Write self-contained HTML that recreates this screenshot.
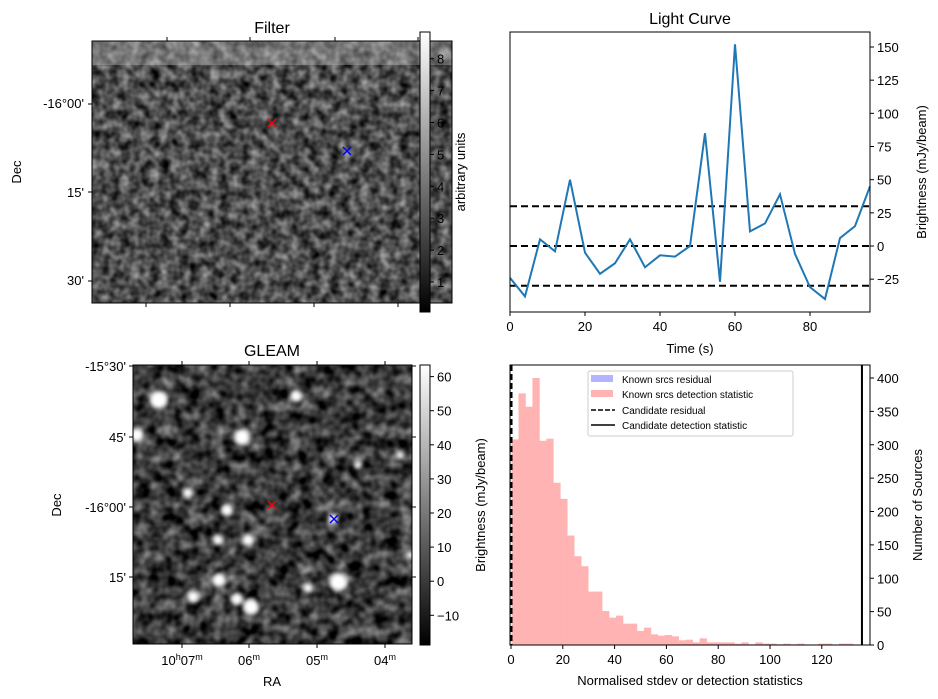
<!DOCTYPE html>
<html><head><meta charset="utf-8"><style>
body{margin:0;background:#fff}
svg{display:block;font-family:"Liberation Sans","DejaVu Sans",sans-serif}
</style></head><body>
<svg id="fig" width="938" height="699" viewBox="0 0 938 699" xmlns="http://www.w3.org/2000/svg">
<defs>
<filter id="noiseF" x="0" y="0" width="100%" height="100%" color-interpolation-filters="sRGB">
<feTurbulence type="fractalNoise" baseFrequency="0.1" numOctaves="2" seed="3"/>
<feColorMatrix type="matrix" values="0.85 0 0 0 -0.12  0.85 0 0 0 -0.12  0.85 0 0 0 -0.12  0 0 0 0 1"/>
</filter>
<filter id="noiseG" x="0" y="0" width="100%" height="100%" color-interpolation-filters="sRGB">
<feTurbulence type="fractalNoise" baseFrequency="0.08" numOctaves="2" seed="11"/>
<feColorMatrix type="matrix" values="0.9 0 0 0 -0.22  0.9 0 0 0 -0.22  0.9 0 0 0 -0.22  0 0 0 0 1"/>
</filter>
<filter id="blur3"><feGaussianBlur stdDeviation="2.5"/></filter>
<linearGradient id="gray" x1="0" y1="1" x2="0" y2="0"><stop offset="0" stop-color="#000"/><stop offset="1" stop-color="#fff"/></linearGradient>
<clipPath id="clipG"><rect x="133" y="365" width="279" height="279"/></clipPath>
</defs>

<!-- Filter panel -->
<g>
<text x="272" y="33" font-size="16" text-anchor="middle">Filter</text>
<rect x="92" y="41" width="360" height="262" fill="#fff" filter="url(#noiseF)"/>
<rect x="92" y="41" width="360" height="24" fill="#c8c8c8" opacity="0.35"/>
<rect x="92" y="41" width="360" height="262" fill="none" stroke="#000"/>
<g stroke="#000"><line x1="92" y1="104" x2="88" y2="104"/><line x1="92" y1="192" x2="88" y2="192"/><line x1="92" y1="281" x2="88" y2="281"/>
<line x1="167" y1="41" x2="167" y2="37"/><line x1="250" y1="41" x2="250" y2="37"/><line x1="335" y1="41" x2="335" y2="37"/><line x1="418" y1="41" x2="418" y2="37"/>
<line x1="146" y1="303" x2="146" y2="307"/><line x1="230" y1="303" x2="230" y2="307"/><line x1="314" y1="303" x2="314" y2="307"/><line x1="398" y1="303" x2="398" y2="307"/></g>
<g font-size="13" text-anchor="end"><text x="84" y="108">-16°00'</text><text x="84" y="197">15'</text><text x="84" y="285">30'</text></g>
<text transform="translate(21,172) rotate(-90)" font-size="13" text-anchor="middle">Dec</text>
<path d="M268,119 L276,127 M276,119 L268,127" stroke="#f00" stroke-width="1.3"/>
<path d="M343,147 L351,155 M351,147 L343,155" stroke="#00f" stroke-width="1.5"/>
<rect x="420" y="32" width="10" height="280" fill="url(#gray)" stroke="#000"/>
<g id="cbF" font-size="13"></g>
<text transform="translate(465,172) rotate(-90)" font-size="13" text-anchor="middle">arbitrary units</text>
</g>

<!-- GLEAM panel -->
<g>
<text x="272" y="356" font-size="16" text-anchor="middle">GLEAM</text>
<g clip-path="url(#clipG)">
<rect x="133" y="365" width="279" height="279" fill="#fff" filter="url(#noiseG)"/>
<g fill="#fff" filter="url(#blur3)" id="blobs"></g>
</g>
<rect x="133" y="365" width="279" height="279" fill="none" stroke="#000"/>
<g stroke="#000"><line x1="133" y1="366" x2="129" y2="366"/><line x1="133" y1="437" x2="129" y2="437"/><line x1="133" y1="507" x2="129" y2="507"/><line x1="133" y1="577" x2="129" y2="577"/>
<line x1="412" y1="366" x2="416" y2="366"/><line x1="412" y1="437" x2="416" y2="437"/><line x1="412" y1="507" x2="416" y2="507"/><line x1="412" y1="577" x2="416" y2="577"/>
<line x1="182" y1="644" x2="182" y2="648"/><line x1="249" y1="644" x2="249" y2="648"/><line x1="317" y1="644" x2="317" y2="648"/><line x1="385" y1="644" x2="385" y2="648"/>
<line x1="182" y1="365" x2="182" y2="361"/><line x1="249" y1="365" x2="249" y2="361"/><line x1="317" y1="365" x2="317" y2="361"/><line x1="385" y1="365" x2="385" y2="361"/></g>
<g font-size="13" text-anchor="end"><text x="126" y="371">-15°30'</text><text x="126" y="442">45'</text><text x="126" y="512">-16°00'</text><text x="126" y="582">15'</text></g>
<g font-size="13" text-anchor="middle"><text x="182" y="665">10<tspan font-size="9" dy="-5">h</tspan><tspan dy="5">07</tspan><tspan font-size="9" dy="-5">m</tspan></text>
<text x="249" y="665">06<tspan font-size="9" dy="-5">m</tspan></text><text x="317" y="665">05<tspan font-size="9" dy="-5">m</tspan></text><text x="385" y="665">04<tspan font-size="9" dy="-5">m</tspan></text></g>
<text x="272" y="686" font-size="13" text-anchor="middle">RA</text>
<text transform="translate(61,505) rotate(-90)" font-size="13" text-anchor="middle">Dec</text>
<path d="M268,501 L276,509 M276,501 L268,509" stroke="#f00" stroke-width="1.3"/>
<path d="M330,515 L338,523 M338,515 L330,523" stroke="#00f" stroke-width="1.5"/>
<rect x="420" y="365" width="10" height="280" fill="url(#gray)" stroke="#000"/>
<g id="cbG" font-size="13"></g>
<text transform="translate(485,505) rotate(-90)" font-size="13" text-anchor="middle">Brightness (mJy/beam)</text>
</g>

<!-- Light curve -->
<g>
<text x="690" y="24" font-size="16" text-anchor="middle">Light Curve</text>
<g id="lc"></g>
<rect x="510" y="32" width="360" height="280" fill="none" stroke="#000"/>
<text x="690" y="353" font-size="13" text-anchor="middle">Time (s)</text>
<text transform="translate(926,172) rotate(-90)" font-size="13" text-anchor="middle">Brightness (mJy/beam)</text>
</g>

<!-- Histogram -->
<g>
<g id="hist"></g>
<rect x="510" y="365" width="360" height="280" fill="none" stroke="#000"/>
<text x="690" y="685" font-size="13" text-anchor="middle">Normalised stdev or detection statistics</text>
<text transform="translate(922,505) rotate(-90)" font-size="13" text-anchor="middle">Number of Sources</text>
<g font-size="10">
<rect x="588" y="371" width="205" height="65" fill="#fff" fill-opacity="0.8" stroke="#ccc" rx="2"/>
<rect x="591" y="375" width="22" height="7" fill="#b3b3ff"/><text x="622" y="383">Known srcs residual</text>
<rect x="591" y="390" width="22" height="7" fill="#ffb3b3"/><text x="622" y="398">Known srcs detection statistic</text>
<line x1="591" y1="410" x2="615" y2="410" stroke="#000" stroke-width="1.5" stroke-dasharray="5,2"/><text x="622" y="414">Candidate residual</text>
<line x1="591" y1="425" x2="615" y2="425" stroke="#000" stroke-width="1.5"/><text x="622" y="429">Candidate detection statistic</text>
</g>
</g>
</svg>
<script>
// Light curve data
const lcTimes=[0,4,8,12,16,20,24,28,32,36,40,44,48,52,56,60,64,68,72,76,80,84,88,92,96];
const lcValues=[-24,-38,5,-4,50,-5,-21,-13,5,-16,-7,-8,0,85,-27,152,11,17,39,-6,-31,-40,6,15,45];
const lcThresholds=[30,0,-30];
const lcXTicks=[0,20,40,60,80];
const lcYTicks=[-25,0,25,50,75,100,125,150];
// Histogram data
const histBinStart=0.2, histBinWidth=2.69;
const histCounts=[308,377,357,400,306,309,243,219,164,133,118,80,80,51,41,44,32,32,21,26,16,14,15,13,7,8,4,10,4,4,4,4,2,4,1,4,2,2,1,2,1,2,0,0,2,2,0,2,2];
const histCandidateResidual=0.2;
const histCandidateDetection=135.5;
const histXTicks=[0,20,40,60,80,100,120];
const histYTicks=[0,50,100,150,200,250,300,350,400];
// Colorbars
const cbFTicks=[1,2,3,4,5,6,7,8];
const cbGTicks=[-10,0,10,20,30,40,50,60];
// GLEAM bright sources [x, y, radius] in pixel coords of image
const blobs=[[159,400,9],[137,435,7],[242,437,8],[296,396,6],[358,465,4],[400,455,4],[227,510,6],[188,493,5],[248,540,6],[218,540,5],[219,580,7],[193,597,6],[237,599,6],[251,607,8],[338,582,9],[308,588,5],[333,519,5],[410,555,4]];

const NS="http://www.w3.org/2000/svg";
function mk(tag,attrs,parent,txt){const e=document.createElementNS(NS,tag);for(const k in attrs)e.setAttribute(k,attrs[k]);if(txt!==undefined)e.textContent=txt;parent.appendChild(e);return e;}

// LC axes
const lx=t=>510+t/96*360, ly=v=>246-v*(199/150);
const lc=document.getElementById('lc');
lcThresholds.forEach(v=>{const l=mk('line',{x1:510,x2:870,y1:ly(v),y2:ly(v),stroke:'#000','stroke-width':2,'stroke-dasharray':'7,4'},lc);

});
const pl=mk('polyline',{points:lcTimes.map((t,i)=>lx(t)+','+ly(lcValues[i])).join(' '),fill:'none',stroke:'#1f77b4','stroke-width':2},lc);


lcXTicks.forEach(t=>{mk('line',{x1:lx(t),x2:lx(t),y1:312,y2:316,stroke:'#000'},lc);const tx=mk('text',{x:lx(t),y:331,'font-size':13,'text-anchor':'middle'},lc,t);

});
lcYTicks.forEach(v=>{mk('line',{x1:870,x2:874,y1:ly(v),y2:ly(v),stroke:'#000'},lc);const tx=mk('text',{x:877,y:ly(v)+5,'font-size':13},lc,v<0?'\u2212'+(-v):v);

});

// Histogram
const hx=v=>511+v*2.59, hy=c=>645-c*(267/400);
const h=document.getElementById('hist');
histCounts.forEach((c,i)=>{if(!c)return;const x0=hx(histBinStart+i*histBinWidth),x1=hx(histBinStart+(i+1)*histBinWidth);
const r=mk('rect',{x:x0,y:hy(c),width:x1-x0+0.3,height:645-hy(c),fill:'#ffb3b3'},h);

});
const dl=mk('line',{x1:hx(histCandidateResidual),x2:hx(histCandidateResidual),y1:365,y2:645,stroke:'#000','stroke-width':2,'stroke-dasharray':'6,3'},h);


const sl=mk('line',{x1:hx(histCandidateDetection),x2:hx(histCandidateDetection),y1:365,y2:645,stroke:'#000','stroke-width':2},h);


histXTicks.forEach(t=>{mk('line',{x1:hx(t),x2:hx(t),y1:645,y2:649,stroke:'#000'},h);const tx=mk('text',{x:hx(t),y:664,'font-size':13,'text-anchor':'middle'},h,t);

});
histYTicks.forEach(v=>{mk('line',{x1:870,x2:874,y1:hy(v),y2:hy(v),stroke:'#000'},h);const tx=mk('text',{x:877,y:hy(v)+5,'font-size':13},h,v);

});

// colorbars
const cf=document.getElementById('cbF');
cbFTicks.forEach(v=>{const y=282-(v-1)*31.9;mk('line',{x1:430,x2:434,y1:y,y2:y,stroke:'#000'},cf);const tx=mk('text',{x:437,y:y+5},cf,v);

});
const cg=document.getElementById('cbG');
cbGTicks.forEach(v=>{const y=615.3-(v+10)*3.41;mk('line',{x1:430,x2:434,y1:y,y2:y,stroke:'#000'},cg);const tx=mk('text',{x:437,y:y+5},cg,v<0?'\u2212'+(-v):v);

});

const bg=document.getElementById('blobs');
blobs.forEach(b=>{const c=mk('circle',{cx:b[0],cy:b[1],r:b[2]},bg);

});
</script>
</body></html>
